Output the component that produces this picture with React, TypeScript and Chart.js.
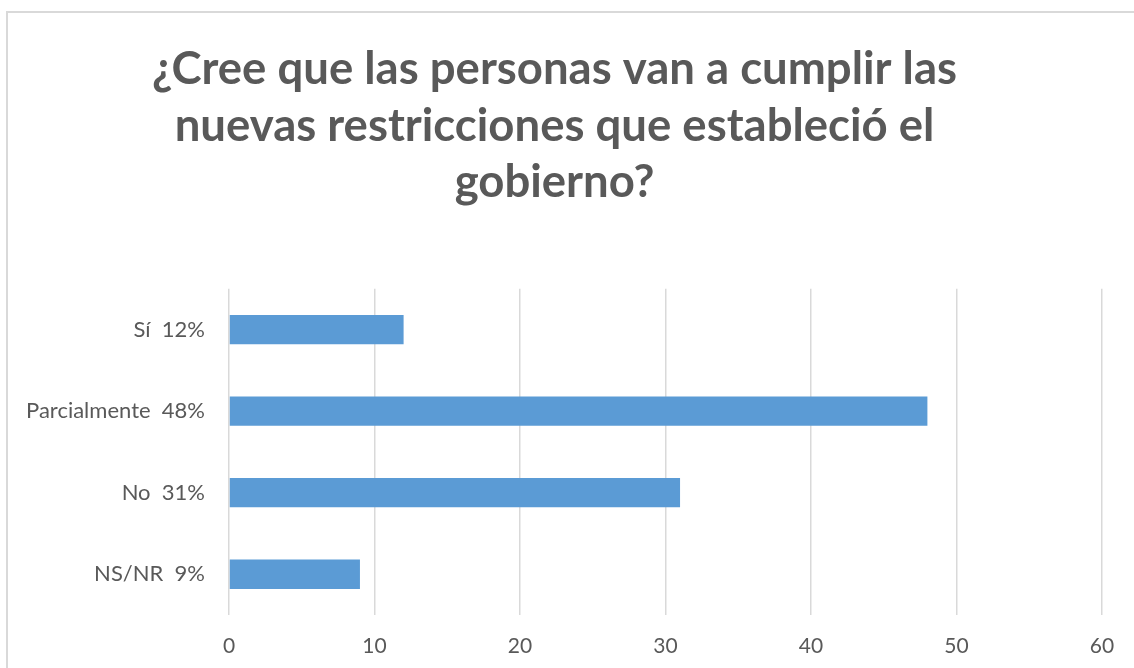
import React, { useEffect, useRef } from "react";
import { Chart, registerables } from "chart.js";

Chart.register(...registerables);

const titleLines = [
  "¿Cree que las personas van a cumplir las",
  "nuevas restricciones que estableció el",
  "gobierno?",
];
const categories = ["Sí  12%", "Parcialmente  48%", "No  31%", "NS/NR  9%"];
const values = [12, 48, 31, 9];
const xMin = 0;
const xMax = 60;
const xStep = 10;

const FONT = "Lato, 'Open Sans', sans-serif";

export default function App() {
  const ref = useRef<HTMLCanvasElement | null>(null);
  useEffect(() => {
    if (!ref.current) return;
    const chart = new Chart(ref.current, {
      type: "bar",
      data: {
        labels: categories,
        datasets: [
          {
            data: values,
            backgroundColor: "#5B9BD5",
            borderWidth: 0,
            barPercentage: 0.36,
            categoryPercentage: 1,
          },
        ],
      },
      options: {
        indexAxis: "y",
        responsive: false,
        animation: false,
        devicePixelRatio: 1,
        layout: { padding: { left: 0, right: 37, top: 0, bottom: 0 } },
        plugins: {
          legend: { display: false },
          tooltip: { enabled: false },
          title: {
            display: true,
            text: titleLines,
            color: "#595959",
            font: { family: FONT, size: 45.5, weight: "bold", lineHeight: 1.244 },
            padding: { top: 29, bottom: 78 },
          },
        },
        scales: {
          x: {
            min: xMin,
            max: xMax,
            ticks: {
              stepSize: xStep,
              color: "#595959",
              font: { family: FONT, size: 21 },
              padding: 19,
            },
            grid: { color: "#D9D9D9", lineWidth: 1.5, drawTicks: false },
            border: { display: false },
            afterFit: (s: any) => {
              s.height = 53;
            },
          },
          y: {
            ticks: {
              color: "#595959",
              font: { family: FONT, size: 22 },
              padding: 24,
            },
            grid: { display: false, drawTicks: false },
            border: { display: false },
            afterFit: (s: any) => {
              s.width = 222;
            },
          },
        },
      },
    });
    return () => chart.destroy();
  }, []);

  return (
    <div
      style={{
        position: "fixed",
        left: 0,
        top: 0,
        width: 1134,
        height: 668,
        overflow: "hidden",
        background: "#fff",
      }}
    >
      <div
        style={{
          position: "absolute",
          left: 6,
          top: 11,
          width: 1160,
          height: 700,
          border: "2px solid #D9D9D9",
          boxSizing: "border-box",
        }}
      />
      <canvas
        ref={ref}
        width={1132}
        height={656}
        style={{ position: "absolute", left: 7, top: 12, width: 1132, height: 656 }}
      />
    </div>
  );
}
